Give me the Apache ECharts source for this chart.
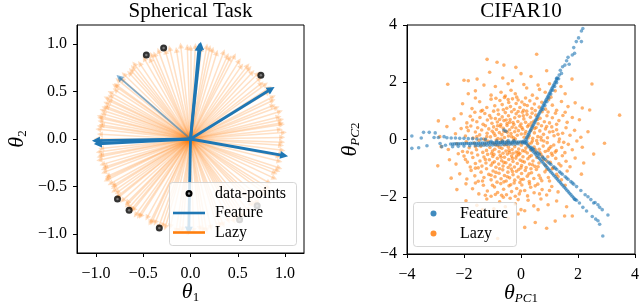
<!DOCTYPE html>
<html><head><meta charset="utf-8">
<script src="https://cdn.jsdelivr.net/npm/echarts@6/dist/echarts.min.js"></script>
<style>html,body{margin:0;padding:0;background:#fff}#c{width:640px;height:307px}</style>
</head><body><div id="c"></div>
<script>
const SERIF = "'Liberation Serif','Times New Roman',serif";
const BLUE = '#1f77b4', ORANGE = '#ff7f0e';

// ---------- Left panel: Spherical Task ----------
const sphereTickValues = [-1, -0.5, 0, 0.5, 1];
const sphereTickLabels = ['−1.0', '−0.5', '0.0', '0.5', '1.0'];
const dataPoints = [[-0.467,0.884],[-0.284,0.958],[0.744,0.670],[-0.772,-0.632],[-0.649,-0.751],[-0.33,-0.937],[0.519,-0.849],[0.705,-0.702]];
const featureEnds = [[0.105,0.982],[0.09,0.97],[0.853,0.526],[-1.0,-0.018],[-0.98,-0.05],[0.99,-0.175],[-0.018,-0.965]];
const featureWeakEnds = [[-0.754,0.649]];
// [angle in degrees, length]
const lazyRays = [[1,0.97],[4,0.99],[6,0.95],[9,0.98],[10,0.97],[14,0.96],[17,0.99],[20,0.97],[22,0.94],[27,0.98],[31,0.96],[33,0.99],[38,0.95],[41,0.97],[44,0.99],[47,0.96],[52,0.98],[55,0.94],[58,0.97],[62,0.99],[66,0.96],[69,0.98],[73,0.95],[76,0.97],[80,0.99],[83,0.96],[87,0.98],[92,0.97],[96,0.99],[99,0.95],[103,0.98],[106,0.96],[110,0.99],[113,0.97],[117,0.94],[120,0.98],[124,0.96],[127,0.99],[129,0.97],[133,0.95],[136,0.98],[139,0.96],[141,0.99],[144,0.97],[147,0.95],[150,0.98],[152,0.96],[154,0.99],[157,0.97],[159,0.95],[160,0.97],[162,0.98],[164,0.96],[166,0.99],[169,0.97],[171,0.95],[174,0.98],[177,0.96],[180,0.99],[183,0.97],[186,0.95],[188,0.98],[190,0.96],[193,0.99],[196,0.97],[198,0.95],[201,0.98],[204,0.96],[205,0.97],[206,0.99],[209,0.97],[211,0.95],[214,0.98],[216,0.96],[219,0.99],[222,0.97],[225,0.95],[228,0.98],[230,0.97],[231,0.96],[234,0.99],[237,0.97],[241,0.95],[244,0.98],[245,0.97],[247,0.96],[250,0.99],[254,0.97],[257,0.95],[261,0.98],[265,0.96],[268,0.99],[272,0.97],[276,0.95],[280,0.98],[283,0.96],[287,0.99],[291,0.97],[295,0.95],[298,0.98],[300,0.97],[302,0.96],[306,0.99],[309,0.97],[313,0.95],[317,0.98],[320,0.96],[324,0.99],[328,0.97],[331,0.95],[335,0.98],[338,0.96],[342,0.99],[346,0.97],[349,0.95],[350,0.97],[353,0.98],[356,0.96],
[12,0.98],[25,0.96],[36,0.98],[50,0.97],[64,0.95],[78,0.98],[90,0.96],[115,0.98],[131,0.96],[145,0.98],[155,0.95],[167,0.98],[172,0.97],[181,0.96],[191,0.98],[199,0.97],[212,0.96],[218,0.98],[226,0.97],[236,0.98],[252,0.96],[263,0.98],[278,0.97],[289,0.96],[304,0.98],[315,0.97],[326,0.96],[340,0.98],[358,0.97]];

// ---------- Right panel: CIFAR10 ----------
const cifarTickValues = [-4, -2, 0, 2, 4];
const cifarTickLabels = ['−4', '−2', '0', '2', '4'];
const cifarFeature = [
[0.176,0.009],[0.203,0.062],[0.231,0.116],[0.258,0.169],[0.286,0.222],[0.313,0.276],[0.341,0.329],[0.368,0.382],[0.396,0.436],[0.423,0.489],[0.451,0.542],[0.478,0.596],[0.506,0.649],[0.533,0.702],[0.561,0.756],[0.588,0.809],[0.615,0.862],[0.643,0.916],[0.670,0.969],[0.698,1.022],[0.725,1.076],[0.753,1.129],[0.780,1.182],[0.808,1.236],[0.835,1.289],[0.863,1.342],[0.890,1.396],[0.918,1.449],[0.945,1.502],[0.973,1.556],[1.000,1.609],[1.028,1.662],[1.055,1.716],[1.083,1.769],[1.110,1.822],[1.138,1.876],[1.165,1.929],[1.193,1.982],[1.220,2.036],[1.248,2.089],[1.275,2.143],
[0.769,1.053],[0.838,1.186],[0.907,1.319],[0.976,1.453],[1.044,1.586],[1.113,1.719],[1.182,1.853],[1.250,1.986],[1.319,2.120],
[2.17,3.88],[2.12,3.79],[1.94,3.42],[2.12,3.42],[1.85,3.21],[1.88,3.01],[1.80,2.95],[1.65,2.87],[1.69,2.63],[1.54,2.60],[1.46,2.54],[1.42,2.31],[1.34,2.25],[1.25,2.14],[2.02,3.55],[1.6,2.75],[1.38,2.42],
[0.183,-0.140],[0.229,-0.193],[0.275,-0.246],[0.321,-0.298],[0.367,-0.351],[0.413,-0.404],[0.460,-0.457],[0.506,-0.509],[0.552,-0.562],[0.598,-0.615],[0.644,-0.667],[0.690,-0.720],[0.736,-0.773],[0.782,-0.825],[0.829,-0.878],[0.875,-0.931],[0.921,-0.984],[0.967,-1.036],[1.013,-1.089],[1.059,-1.142],[1.105,-1.194],[1.151,-1.247],[1.198,-1.300],[1.244,-1.353],[1.290,-1.405],[1.336,-1.458],[1.382,-1.511],[1.428,-1.563],[1.474,-1.616],[1.520,-1.669],[1.567,-1.722],[1.613,-1.774],[1.659,-1.827],[1.705,-1.880],[1.751,-1.932],[1.797,-1.985],[1.843,-2.038],[1.883,-2.083],
[0.35,-0.269],[0.45,-0.355],[0.55,-0.441],[0.65,-0.527],[0.75,-0.613],[0.85,-0.699],[0.95,-0.785],[1.05,-0.871],[1.15,-0.957],[1.25,-1.043],[1.35,-1.129],[1.45,-1.215],[1.55,-1.301],[1.65,-1.387],[1.75,-1.473],[1.85,-1.559],[1.95,-1.645],
[0.4,-0.312],[0.6,-0.484],[0.8,-0.656],[1.0,-0.828],[1.2,-1.0],[1.4,-1.172],[1.6,-1.344],[1.8,-1.516],
[2.1,-1.78],[2.25,-1.93],[2.35,-2.0],[2.45,-2.1],[2.6,-2.2],[2.7,-2.28],[2.76,-2.37],[2.85,-2.45],[3.05,-2.64],[2.55,-2.22],
[1.95,-2.12],[2.05,-2.22],[2.17,-2.37],[2.3,-2.5],[2.5,-2.69],[2.62,-2.78],[2.7,-2.84],[2.76,-2.96],[2.87,-3.37],[1.9,-2.1],
[0.05,-0.082],[-0.02,-0.085],[-0.09,-0.087],[-0.16,-0.089],[-0.23,-0.091],[-0.30,-0.093],[-0.37,-0.095],[-0.44,-0.097],[-0.51,-0.099],[-0.58,-0.101],[-0.65,-0.103],[-0.72,-0.106],[-0.79,-0.108],[-0.86,-0.110],[-0.93,-0.112],[-1.00,-0.114],[-1.07,-0.116],[-1.14,-0.118],[-1.21,-0.120],[-1.28,-0.122],[-1.35,-0.124],[-1.42,-0.127],[-1.49,-0.129],[-1.56,-0.131],[-1.63,-0.133],[-1.70,-0.135],[-1.77,-0.137],[-1.84,-0.139],[-1.91,-0.141],[-1.98,-0.143],[-2.05,-0.145],[-2.12,-0.148],[-2.19,-0.150],[-2.26,-0.152],[-2.33,-0.154],[-2.40,-0.156],[-2.47,-0.158],
[-0.1,-0.15],[-0.2,-0.16],[-0.3,-0.16],[-0.4,-0.17],[-0.5,-0.17],[-0.6,-0.17],[-0.7,-0.18],[-0.8,-0.18],[-0.9,-0.18],[-1.0,-0.19],[-1.1,-0.19],[-1.2,-0.2],[-1.3,-0.2],[-1.4,-0.2],[-1.5,-0.21],[-1.6,-0.21],[-1.8,-0.22],[-2.0,-0.23],[-2.2,-0.24],[-2.4,-0.25],
[-0.25,-0.04],[-0.45,-0.04],[-0.65,-0.05],[-0.85,-0.05],[-1.05,-0.06],
[-2.6,0.06],[-2.45,0.05],[-2.3,0.05],[-2.15,0.04],[-2.0,0.04],[-1.85,0.03],[-1.7,0.03],[-1.55,0.02],[-1.4,0.02],[-1.25,0.01],
[-3.83,0.12],[-3.83,-0.31],[-3.59,-0.29],[-3.42,0.25],[-3.22,0.25],[-3.01,0.23],[-3.05,0.07],[-2.9,0.07],[-2.84,-0.14],[-2.78,-0.25],[-3.3,-0.22],[-3.5,0.05],[-2.7,0.1],[-2.65,-0.2],
[0.1,-0.05],[0.16,-0.1],[0.12,-0.12],[0.2,-0.06],[0.05,-0.12],[-0.53,0.29],[-0.6,0.33]
];
const cifarLazy = [
[-1.19,2.8],[-0.84,2.70],[0.55,2.98],[-0.18,2.52],[-0.6,2.6],
[-2.0,2.07],[-1.85,2.05],[-1.54,2.11],[-0.64,2.15],[0.0,2.3],[1.79,2.11],[-0.3,2.05],[0.35,2.2],[-1.1,2.35],[0.9,2.4],
[-2.57,1.93],[2.49,1.94],[-1.3,1.9],[-0.9,1.85],[-0.45,1.95],[0.2,1.8],[0.6,1.9],[1.2,1.7],[-1.6,1.7],[-0.2,1.6],[0.4,1.55],[-0.7,1.65],[1.55,1.6],[-1.05,1.55],[0.1,1.92],[-0.35,1.72],[0.85,1.65],[-1.85,1.6],[1.0,1.95],[-0.55,1.52],[0.65,1.75],[1.4,1.85],
[-1.72,1.08],[-1.45,1.32],[-1.2,1.12],[-1.05,1.41],[-0.92,1.18],[-0.81,1.03],[-0.74,1.36],[-0.66,1.22],[-0.58,1.47],[-0.5,1.09],[-0.43,1.29],[-0.37,1.15],[-0.3,1.42],[-0.24,1.05],[-0.17,1.26],[-0.1,1.38],[-0.04,1.12],[0.03,1.31],[0.09,1.02],[0.16,1.45],[0.22,1.19],[0.31,1.35],[0.38,1.08],[0.47,1.24],[0.56,1.44],[0.64,1.13],[0.73,1.3],[0.86,1.06],[0.97,1.39],[1.1,1.2],[1.25,1.02],[1.42,1.33],[1.65,1.15],[1.9,1.28],[-2.05,1.25],[-1.35,1.02],[-0.62,1.04],[-0.15,1.48],[0.5,1.01],[-0.88,1.44],[-1.6,1.45],[0.12,1.22],[-0.45,1.4],[1.05,1.48],[2.15,1.1],
[-2.9,0.65],[-2.35,0.72],[-2.1,0.9],[-1.9,0.58],[-1.78,0.81],[-1.62,0.95],[-1.55,0.62],[-1.44,0.77],[-1.33,0.53],[-1.27,0.91],[-1.18,0.68],[-1.1,0.84],[-1.02,0.57],[-0.96,0.99],[-0.9,0.73],[-0.83,0.61],[-0.79,0.88],[-0.71,0.52],[-0.66,0.79],[-0.6,0.66],[-0.55,0.94],[-0.49,0.56],[-0.44,0.83],[-0.38,0.7],[-0.33,0.97],[-0.28,0.59],[-0.22,0.76],[-0.17,0.9],[-0.11,0.63],[-0.06,0.81],[0.0,0.54],[0.05,0.95],[0.1,0.72],[0.16,0.6],[0.21,0.87],[0.27,0.51],[0.33,0.78],[0.39,0.92],[0.45,0.64],[0.52,0.85],[0.6,0.55],[0.67,0.74],[0.74,0.97],[0.82,0.62],[0.91,0.83],[1.0,0.58],[1.1,0.76],[1.21,0.92],[1.33,0.66],[1.47,0.84],[1.62,0.6],[1.8,0.77],[2.05,0.69],[2.41,1.03],[3.46,0.85],[-1.4,0.99],[-0.75,0.7],[-0.25,0.52],[0.2,0.99],[0.58,0.7],[-1.05,0.75],[-0.52,0.68],[0.08,0.83],[0.95,0.96],[-1.7,0.68],[1.25,0.53],[-0.1,0.98],[-0.4,0.6],[0.36,0.58],[1.55,0.95],
[-2.6,0.45],[-2.3,0.2],[-2.1,0.38],[-1.95,0.12],[-1.85,0.31],[-1.76,0.47],[-1.68,0.05],[-1.6,0.26],[-1.52,0.41],[-1.45,0.16],[-1.38,0.33],[-1.31,0.02],[-1.25,0.48],[-1.19,0.22],[-1.13,0.37],[-1.07,0.09],[-1.01,0.29],[-0.96,0.44],[-0.91,0.14],[-0.86,0.35],[-0.81,0.03],[-0.76,0.24],[-0.72,0.46],[-0.67,0.17],[-0.62,0.39],[-0.58,0.07],[-0.53,0.29],[-0.49,0.49],[-0.44,0.12],[-0.4,0.34],[-0.35,0.21],[-0.31,0.43],[-0.26,0.06],[-0.22,0.27],[-0.18,0.4],[-0.13,0.15],[-0.09,0.31],[-0.04,0.47],[0.01,0.19],[0.06,0.36],[0.11,0.08],[0.17,0.28],[0.23,0.45],[0.29,0.13],[0.35,0.32],[0.41,0.04],[0.47,0.23],[0.53,0.42],[0.59,0.1],[0.66,0.3],[0.72,0.48],[0.79,0.18],[0.86,0.37],[0.93,0.06],[1.0,0.26],[1.08,0.44],[1.16,0.13],[1.25,0.34],[1.35,0.02],[1.46,0.22],[1.58,0.41],[1.72,0.15],[1.88,0.32],[2.1,0.08],[2.35,0.27],[-2.85,0.1],[-1.2,0.1],[-0.95,0.22],[-0.7,0.02],[-0.48,0.25],[-0.2,0.02],[0.03,0.42],[0.38,0.47],[0.7,0.08],[1.12,0.28],[-1.55,0.1],[-0.82,0.48],[-0.33,0.1],[0.14,0.2],[0.48,0.38],[0.9,0.45],[1.3,0.18],[-1.9,0.43],[-0.6,0.28],[0.25,0.05],
[-2.55,-0.35],[-2.25,-0.15],[-2.05,-0.42],[-1.92,-0.08],[-1.82,-0.29],[-1.73,-0.47],[-1.64,-0.12],[-1.56,-0.36],[-1.48,-0.03],[-1.41,-0.24],[-1.34,-0.45],[-1.27,-0.17],[-1.21,-0.38],[-1.15,-0.06],[-1.09,-0.28],[-1.03,-0.49],[-0.97,-0.13],[-0.92,-0.34],[-0.87,-0.02],[-0.82,-0.22],[-0.77,-0.43],[-0.72,-0.1],[-0.67,-0.31],[-0.63,-0.48],[-0.58,-0.19],[-0.53,-0.4],[-0.49,-0.07],[-0.44,-0.27],[-0.4,-0.46],[-0.35,-0.15],[-0.31,-0.35],[-0.26,-0.04],[-0.22,-0.25],[-0.17,-0.44],[-0.13,-0.12],[-0.08,-0.33],[-0.04,-0.49],[0.01,-0.2],[0.06,-0.39],[0.11,-0.09],[0.17,-0.3],[0.22,-0.47],[0.28,-0.16],[0.34,-0.37],[0.4,-0.05],[0.46,-0.26],[0.52,-0.45],[0.58,-0.14],[0.64,-0.34],[0.71,-0.02],[0.78,-0.23],[0.85,-0.42],[0.92,-0.11],[0.99,-0.31],[1.07,-0.48],[1.15,-0.19],[1.24,-0.39],[1.33,-0.08],[1.43,-0.28],[1.54,-0.46],[1.66,-0.17],[1.8,-0.36],[1.96,-0.05],[2.15,-0.27],[2.93,-0.13],[2.55,-0.51],[-2.8,-0.25],[-1.0,-0.4],[-0.75,-0.28],[-0.5,-0.18],[-0.28,-0.48],[0.0,-0.1],[0.25,-0.22],[0.5,-0.35],[0.8,-0.05],[1.05,-0.25],[-1.6,-0.25],[-1.25,-0.02],[-0.65,-0.05],[-0.1,-0.45],[0.36,-0.12],[0.66,-0.46],[1.2,-0.44],[-1.88,-0.44],[-0.9,-0.18],[-0.42,-0.38],[0.14,-0.41],[0.55,-0.04],[0.95,-0.38],[1.5,-0.1],
[-2.28,-0.86],[-2.51,-0.71],[-2.92,-0.92],[-2.0,-0.58],[-1.88,-0.79],[-1.78,-0.96],[-1.69,-0.63],[-1.6,-0.84],[-1.52,-0.54],[-1.44,-0.75],[-1.37,-0.93],[-1.3,-0.61],[-1.23,-0.82],[-1.17,-0.52],[-1.11,-0.71],[-1.05,-0.9],[-0.99,-0.59],[-0.93,-0.78],[-0.88,-0.97],[-0.83,-0.66],[-0.78,-0.86],[-0.73,-0.55],[-0.68,-0.74],[-0.63,-0.93],[-0.58,-0.62],[-0.53,-0.81],[-0.48,-0.51],[-0.43,-0.7],[-0.38,-0.89],[-0.33,-0.58],[-0.28,-0.77],[-0.23,-0.96],[-0.18,-0.65],[-0.13,-0.84],[-0.08,-0.53],[-0.03,-0.72],[0.02,-0.91],[0.07,-0.6],[0.12,-0.79],[0.18,-0.98],[0.24,-0.67],[0.3,-0.86],[0.36,-0.56],[0.42,-0.75],[0.49,-0.94],[0.56,-0.63],[0.63,-0.82],[0.7,-0.52],[0.78,-0.71],[0.86,-0.9],[0.94,-0.6],[1.03,-0.8],[1.12,-0.99],[1.22,-0.66],[1.33,-0.85],[1.45,-0.57],[1.58,-0.76],[1.72,-0.95],[1.9,-0.65],[2.2,-0.82],[-1.95,-0.7],[-1.5,-0.99],[-1.0,-0.82],[-0.7,-0.62],[-0.45,-0.98],[-0.15,-0.57],[0.05,-0.76],[0.3,-0.6],[0.6,-0.95],[0.9,-0.75],[-1.25,-0.7],[-0.95,-0.52],[-0.6,-0.8],[-0.3,-0.66],[0.0,-0.99],[0.4,-0.88],[0.75,-0.6],[1.1,-0.55],[1.4,-0.92],[-2.2,-0.5],
[-2.15,-1.2],[-1.9,-1.38],[-1.75,-1.08],[-1.62,-1.27],[-1.5,-1.46],[-1.4,-1.14],[-1.3,-1.33],[-1.21,-1.02],[-1.13,-1.22],[-1.05,-1.41],[-0.98,-1.1],[-0.91,-1.3],[-0.84,-1.49],[-0.77,-1.18],[-0.7,-1.37],[-0.64,-1.06],[-0.58,-1.26],[-0.52,-1.45],[-0.46,-1.14],[-0.4,-1.34],[-0.34,-1.03],[-0.28,-1.23],[-0.22,-1.42],[-0.16,-1.11],[-0.1,-1.31],[-0.04,-1.5],[0.02,-1.19],[0.08,-1.39],[0.15,-1.08],[0.22,-1.28],[0.29,-1.47],[0.37,-1.16],[0.45,-1.36],[0.54,-1.05],[0.63,-1.25],[0.73,-1.44],[0.84,-1.13],[0.96,-1.33],[1.1,-1.02],[1.25,-1.22],[1.42,-1.41],[1.62,-1.1],[2.12,-1.21],[-2.45,-1.35],[-1.35,-1.45],[-0.88,-1.15],[-0.6,-1.48],[-0.3,-1.12],[0.0,-1.4],[0.35,-1.02],[0.68,-1.35],[1.0,-1.45],[-1.6,-1.0],[-1.05,-1.25],[-0.48,-1.3],[-0.08,-1.05],[0.28,-1.2],[0.9,-1.05],[1.3,-1.3],[-0.75,-1.02],
[-1.93,-1.55],[-1.7,-1.72],[-1.48,-1.9],[-1.32,-1.6],[-1.18,-1.8],[-1.05,-1.98],[-0.93,-1.66],[-0.82,-1.85],[-0.71,-1.54],[-0.61,-1.74],[-0.51,-1.93],[-0.42,-1.62],[-0.33,-1.82],[-0.24,-1.52],[-0.15,-1.71],[-0.06,-1.9],[0.03,-1.59],[0.13,-1.78],[0.23,-1.97],[0.34,-1.67],[0.46,-1.86],[0.59,-1.56],[0.74,-1.75],[0.9,-1.94],[1.08,-1.64],[1.3,-1.83],[1.55,-1.6],[-2.25,-1.75],[-1.6,-1.52],[-1.0,-1.6],[-0.68,-1.95],[-0.36,-1.58],[-0.02,-1.8],[0.3,-1.55],[0.65,-1.9],[1.0,-1.78],[-0.9,-1.92],[-0.2,-1.98],[0.5,-1.62],[-1.25,-1.95],
[-1.93,-2.14],[-1.55,-2.3],[-1.2,-2.08],[-0.95,-2.42],[-0.75,-2.18],[-0.55,-2.35],[-0.38,-2.05],[-0.2,-2.25],[0.0,-2.45],[0.13,-2.49],[0.25,-2.12],[0.45,-2.32],[0.7,-2.08],[0.95,-2.28],[1.25,-2.15],[-1.35,-2.45],[-0.62,-2.02],[0.6,-2.45],[1.6,-2.35],[-0.1,-2.1],
[0.13,-3.07],[-0.82,-3.46],[1.53,-2.67],[1.8,-2.67],[-0.45,-2.75],[0.5,-2.9],[-1.1,-2.65],[0.9,-3.1],[-0.1,-2.6],[1.2,-2.85]
];

// ---------- helpers ----------
function rays(ends) { return ends.map(e => ({ coords: [[0, 0], e] })); }
const lazyEnds = lazyRays.map(([a, r]) => [r * Math.cos(a * Math.PI / 180), r * Math.sin(a * Math.PI / 180)]);
function fmt(values, labels) { return v => { const i = values.findIndex(x => Math.abs(x - v) < 1e-9); return i < 0 ? '' : labels[i]; }; }
function axis(gridIndex, min, max, values, labels, margin, extra) {
  return Object.assign({
    type: 'value', gridIndex, min, max,
    nameMoveOverlap: false,
    axisLine: { show: true, onZero: false, lineStyle: { color: '#000', width: 1 } },
    axisTick: { show: true, inside: false, length: 4, lineStyle: { color: '#000', width: 1 }, customValues: values },
    axisLabel: { color: '#000', fontFamily: SERIF, fontSize: 16, margin: margin, customValues: values, formatter: fmt(values, labels) },
    splitLine: { show: false }
  }, extra);
}
const nameRich = {
  t: { fontFamily: SERIF, fontStyle: 'italic', fontSize: 22, lineHeight: 24, color: '#000' },
  si: { fontFamily: SERIF, fontStyle: 'italic', fontSize: 13, lineHeight: 6, verticalAlign: 'bottom', color: '#000' },
  s: { fontFamily: SERIF, fontSize: 13, lineHeight: 6, verticalAlign: 'bottom', color: '#000' }
};

const chart = echarts.init(document.getElementById('c'), null, { renderer: 'canvas' });
chart.setOption({
  animation: false,
  backgroundColor: '#fff',
  grid: [
    { left: 77, top: 25, width: 227, height: 228, show: true, borderColor: '#000', borderWidth: 1, backgroundColor: 'transparent', containLabel: false, outerBoundsMode: 'none' },
    { left: 407, top: 25, width: 228, height: 229, show: true, borderColor: '#000', borderWidth: 1, backgroundColor: 'transparent', containLabel: false, outerBoundsMode: 'none' }
  ],
  xAxis: [
    axis(0, -1.2, 1.2, sphereTickValues, sphereTickLabels, 13, { position: 'bottom', name: '{t|θ}{s|1}', nameLocation: 'middle', nameGap: 27, nameTextStyle: { rich: nameRich } }),
    axis(1, -4, 4, cifarTickValues, cifarTickLabels, 13, { position: 'bottom', interval: 2, name: '{t|θ}{si|PC}{s|1}', nameLocation: 'middle', nameGap: 27, nameTextStyle: { rich: nameRich } })
  ],
  yAxis: [
    axis(0, -1.2, 1.2, sphereTickValues, sphereTickLabels, 10, { position: 'left', name: '{t|θ}{s|2}', nameLocation: 'middle', nameGap: 48, nameTextStyle: { rich: nameRich } }),
    axis(1, -4, 4, cifarTickValues, cifarTickLabels, 10, { position: 'left', interval: 2, name: '{t|θ}{si|PC}{s|2}', nameLocation: 'middle', nameGap: 45, nameTextStyle: { rich: nameRich } })
  ],
  series: [
    { name: 'Lazy', type: 'lines', coordinateSystem: 'cartesian2d', xAxisIndex: 0, yAxisIndex: 0, silent: true, z: 1,
      symbol: ['none', 'triangle'], symbolSize: [0, 6],
      lineStyle: { color: 'rgba(255,127,14,0.24)', width: 1.5, opacity: 1 }, data: rays(lazyEnds) },
    { name: 'FeatureWeak', type: 'lines', coordinateSystem: 'cartesian2d', xAxisIndex: 0, yAxisIndex: 0, silent: true, z: 2,
      symbol: ['none', 'triangle'], symbolSize: [0, 7],
      lineStyle: { color: 'rgba(31,119,180,0.55)', width: 1.8, opacity: 1 }, data: rays(featureWeakEnds) },
    { name: 'Feature', type: 'lines', coordinateSystem: 'cartesian2d', xAxisIndex: 0, yAxisIndex: 0, silent: true, z: 3,
      symbol: ['none', 'triangle'], symbolSize: [0, 8],
      lineStyle: { color: BLUE, width: 2.8, opacity: 1 }, data: rays(featureEnds) },
    { name: 'data-points', type: 'scatter', xAxisIndex: 0, yAxisIndex: 0, silent: true, z: 4,
      symbolSize: 7, itemStyle: { color: '#000' }, data: dataPoints },
    { name: 'data-points-c', type: 'scatter', xAxisIndex: 0, yAxisIndex: 0, silent: true, z: 5,
      symbolSize: 2.5, itemStyle: { color: '#8a8a8a' }, data: dataPoints },
    { name: 'LazyC', type: 'scatter', xAxisIndex: 1, yAxisIndex: 1, silent: true, z: 1, large: false,
      symbolSize: 3.6, itemStyle: { color: ORANGE, opacity: 0.6 }, data: cifarLazy },
    { name: 'FeatureC', type: 'scatter', xAxisIndex: 1, yAxisIndex: 1, silent: true, z: 2, large: false,
      symbolSize: 3.6, itemStyle: { color: BLUE, opacity: 0.6 }, data: cifarFeature }
  ],
  graphic: [
    { type: 'text', x: 190.5, y: 1, z: 50, style: { text: 'Spherical Task', fill: '#000', font: '21px ' + SERIF, align: 'center', verticalAlign: 'top' } },
    { type: 'text', x: 521, y: 1, z: 50, style: { text: 'CIFAR10', fill: '#000', font: '21px ' + SERIF, align: 'center', verticalAlign: 'top' } },
    // left legend
    { type: 'rect', z: 100, shape: { x: 169.5, y: 182.5, width: 127, height: 63, r: 3 }, style: { fill: 'rgba(255,255,255,0.8)', stroke: 'rgba(204,204,204,0.8)', lineWidth: 1 } },
    { type: 'circle', z: 101, shape: { cx: 189, cy: 193.5, r: 3.5 }, style: { fill: '#000' } },
    { type: 'circle', z: 102, shape: { cx: 189, cy: 193.5, r: 1.2 }, style: { fill: '#8a8a8a' } },
    { type: 'line', z: 101, shape: { x1: 173, y1: 213, x2: 205, y2: 213 }, style: { stroke: BLUE, lineWidth: 2.6 } },
    { type: 'line', z: 101, shape: { x1: 173, y1: 232.5, x2: 205, y2: 232.5 }, style: { stroke: ORANGE, lineWidth: 2.6 } },
    { type: 'text', z: 101, x: 215, y: 193.5, style: { text: 'data-points', fill: '#000', font: '16px ' + SERIF, verticalAlign: 'middle' } },
    { type: 'text', z: 101, x: 215, y: 213, style: { text: 'Feature', fill: '#000', font: '16px ' + SERIF, verticalAlign: 'middle' } },
    { type: 'text', z: 101, x: 215, y: 232.5, style: { text: 'Lazy', fill: '#000', font: '16px ' + SERIF, verticalAlign: 'middle' } },
    // right legend
    { type: 'rect', z: 100, shape: { x: 413.5, y: 202.5, width: 103, height: 44, r: 3 }, style: { fill: 'rgba(255,255,255,0.8)', stroke: 'rgba(204,204,204,0.8)', lineWidth: 1 } },
    { type: 'circle', z: 101, shape: { cx: 433.5, cy: 213.5, r: 3 }, style: { fill: BLUE, opacity: 0.85 } },
    { type: 'circle', z: 101, shape: { cx: 433.5, cy: 233.5, r: 3 }, style: { fill: ORANGE, opacity: 0.85 } },
    { type: 'text', z: 101, x: 460, y: 213.5, style: { text: 'Feature', fill: '#000', font: '16px ' + SERIF, verticalAlign: 'middle' } },
    { type: 'text', z: 101, x: 460, y: 233.5, style: { text: 'Lazy', fill: '#000', font: '16px ' + SERIF, verticalAlign: 'middle' } }
  ]
});
</script></body></html>
